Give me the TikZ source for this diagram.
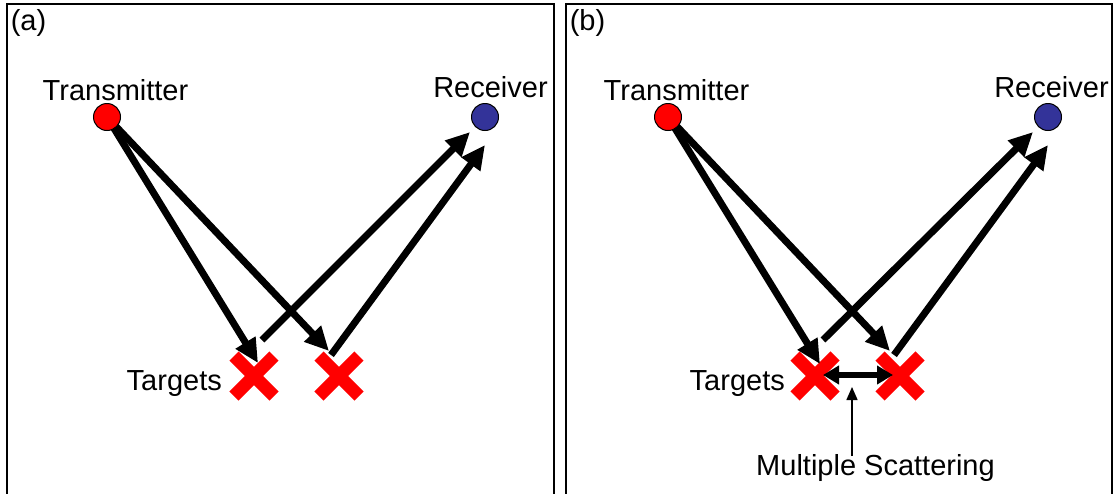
\documentclass[tikz,border=0pt]{standalone}
\usepackage{fontspec}
\setmainfont{Liberation Sans}
\usetikzlibrary{arrows.meta}
\definecolor{rxblue}{HTML}{333399}
\tikzset{
  lbl/.style={font=\fontsize{29}{34}\selectfont, inner sep=0pt, anchor=base},
  frame/.style={draw=black, line width=1.3pt},
  txdot/.style={circle, fill=red, draw=black, line width=1pt, minimum size=27pt, inner sep=0pt},
  rxdot/.style={circle, fill=rxblue, draw=black, line width=1pt, minimum size=27pt, inner sep=0pt},
  bigarrow/.style={line width=7pt, -{Triangle[length=24pt,width=22pt]}},
  dblarrow/.style={line width=6pt, {Triangle[length=16pt,width=18pt]}-{Triangle[length=16pt,width=18pt]}},
  thinarrow/.style={line width=1.5pt, -{Triangle[length=13pt,width=11pt]}},
  crossline/.style={red, line width=13pt},
}
\newcommand{\drawcross}[1]{%
  \draw[crossline] ($(#1)+(-20,-20)$) -- ($(#1)+(20,20)$);
  \draw[crossline] ($(#1)+(-20,20)$) -- ($(#1)+(20,-20)$);
}
\usetikzlibrary{calc}
\begin{document}
\begin{tikzpicture}[x=1pt,y=-1pt]
\useasboundingbox (0,0) rectangle (1116,493);
\fill[white] (0,0) rectangle (1116,493);
% frames
\draw[frame] (7,510) -- (7,4) -- (554,4) -- (554,510);
\draw[frame] (566,510) -- (566,4) -- (1112,4) -- (1112,510);

% ---------- panel (a)
\begin{scope}[name prefix=a-]
\node[lbl] (lab) at (28.5,30) {(a)};
\coordinate (T) at (107,117);
\coordinate (R) at (485,117);
\coordinate (X1) at (254,376);
\coordinate (X2) at (339,376);
\drawcross{X1}
\drawcross{X2}
\coordinate (t1) at (258,363);
\coordinate (t2) at (329,351);
\coordinate (s3) at (262,340);
\coordinate (t3) at (470,132);
\coordinate (s4) at (331,355);
\coordinate (t4) at (485,145);
\draw[bigarrow] (T) -- (t1);
\draw[bigarrow] (T) -- (t2);
\draw[bigarrow] (s3) -- (t3);
\draw[bigarrow] (s4) -- (t4);
\node[txdot] (tx) at (T) {};
\node[rxdot] (rx) at (R) {};
\node[lbl] (txl) at (115.5,100) {Transmitter};
\node[lbl] (rxl) at (490.5,97) {Receiver};
\node[lbl, anchor=base east] (tgl) at (222,390) {Targets};
\end{scope}

% ---------- panel (b)
\begin{scope}[xshift=561pt, name prefix=b-]
\node[lbl] (lab) at (26.5,30) {(b)};
\coordinate (T) at (107,117);
\coordinate (R) at (487,117);
\coordinate (X1) at (254,376);
\coordinate (X2) at (339,376);
\drawcross{X1}
\drawcross{X2}
\coordinate (t1) at (259,364);
\coordinate (t2) at (329,351);
\coordinate (s3) at (262,340);
\coordinate (t3) at (472,132);
\coordinate (s4) at (333,355);
\coordinate (t4) at (487,145);
\draw[bigarrow] (T) -- (t1);
\draw[bigarrow] (T) -- (t2);
\draw[bigarrow] (s3) -- (t3);
\draw[bigarrow] (s4) -- (t4);
\coordinate (m1) at (262,375);
\coordinate (m2) at (332,375);
\draw[dblarrow] (m1) -- (m2);
\node[txdot] (tx) at (T) {};
\node[rxdot] (rx) at (R) {};
\node[lbl] (txl) at (115.5,100) {Transmitter};
\node[lbl] (rxl) at (490.5,97) {Receiver};
\node[lbl, anchor=base east] (tgl) at (224,390) {Targets};
\node[lbl] (ms) at (314.5,475) {Multiple Scattering};
\coordinate (ms-top) at (291,456);
\coordinate (ms-tip) at (291,387);
\draw[thinarrow] (ms-top) -- (ms-tip);
\end{scope}
\end{tikzpicture}
\end{document}
